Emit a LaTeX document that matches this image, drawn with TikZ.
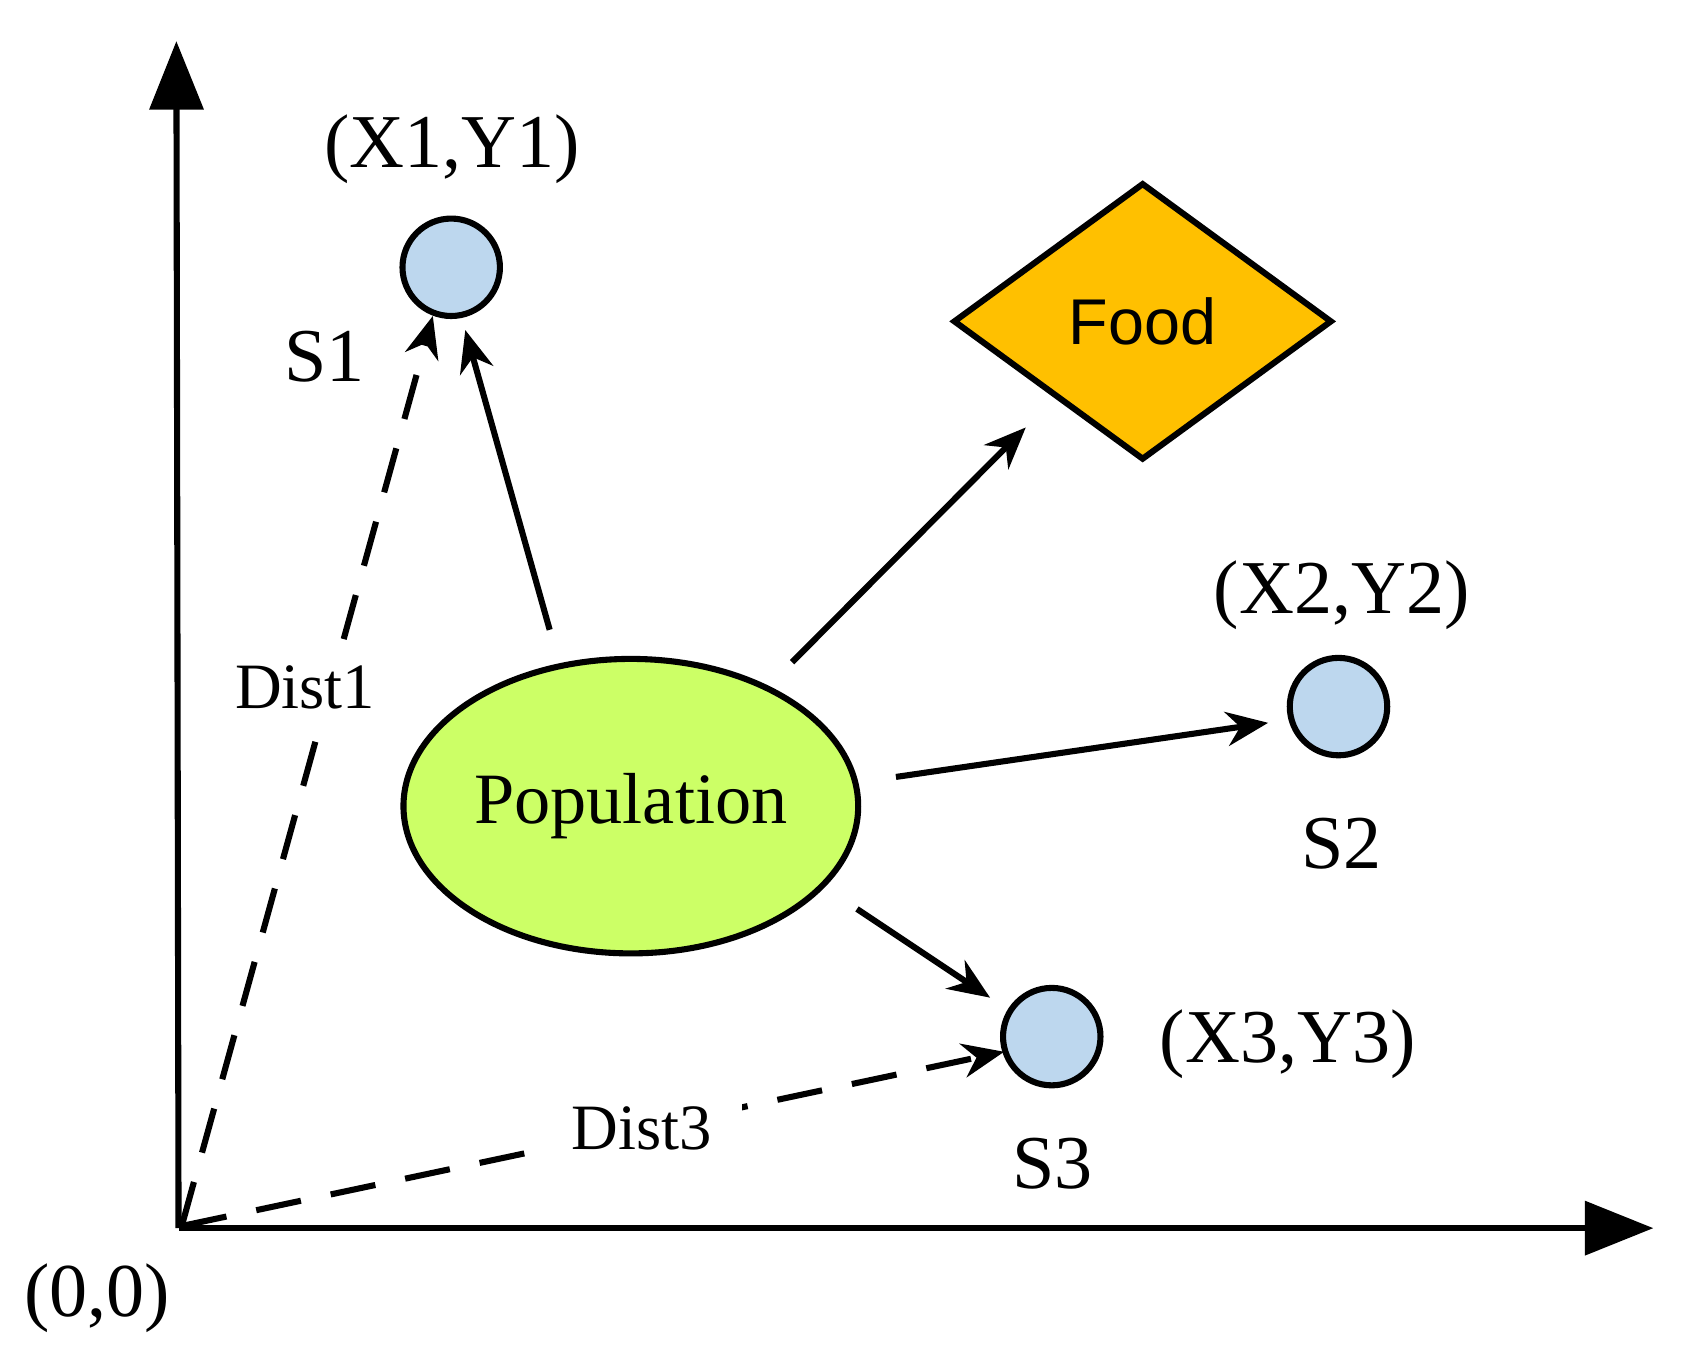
\documentclass[tikz,border=0pt]{standalone}
\usepackage{fontspec}
\setmainfont{Liberation Serif}
\newfontfamily\sansf{Liberation Sans}
\usetikzlibrary{shapes.geometric,arrows.meta}
\begin{document}
\begin{tikzpicture}[x=0.01cm,y=-0.01cm,
  lw/.style={line width=1.6pt},
  pt/.style={circle,draw,lw,fill={rgb,255:red,189;green,215;blue,238},minimum size=0.9cm,inner sep=0},
  arr/.style={lw,-{Stealth[length=11pt,width=9pt]}},
  dsh/.style={lw,dash pattern=on 12pt off 8pt,-{Stealth[length=11pt,width=9pt]}},
  lab/.style={font=\fontsize{20}{24}\selectfont},
  dl/.style={font=\fontsize{17}{20}\selectfont,fill=white,inner xsep=8pt,inner ysep=3pt}]
\useasboundingbox (0,0) rectangle (1560,1250);
\coordinate (O) at (165,1135);
\coordinate (YT) at (163,38);
\coordinate (XT) at (1528,1135);
\draw[lw,-{Triangle[length=18pt,width=14pt]}] (O) -- (YT);
\draw[lw,-{Triangle[length=18pt,width=14pt]}] (O) -- (XT);
\node[pt] (s1) at (417,247) {};
\node[pt] (s2) at (1237,653) {};
\node[pt] (s3) at (972,958) {};
\node[diamond,draw,lw,fill={rgb,255:red,255;green,192;blue,0},minimum width=3.5cm,minimum height=2.56cm,inner sep=0,aspect=1.37,font=\sansf\fontsize{17}{20}\selectfont] (food) at (1056,297) {Food};
\node[ellipse,draw,lw,fill={rgb,255:red,204;green,255;blue,102},minimum width=4.2cm,minimum height=2.72cm,inner sep=0,font=\fontsize{19}{24}\selectfont] (pop) at (583,745) {Population};
\node[lab] (l1) at (418,138) {(X1,Y1)};
\node[lab] (n1) at (300,330) {S1};
\node[lab] (l2) at (1240,550) {(X2,Y2)};
\node[lab] (n2) at (1240,780) {S2};
\node[lab] (l3) at (1190,965) {(X3,Y3)};
\node[lab] (n3) at (973,1075) {S3};
\node[lab] (l0) at (90,1200) {(0,0)};
\coordinate (p1) at (508,582);
\coordinate (p2) at (732,612);
\coordinate (p3) at (828,718);
\coordinate (p4) at (792,840);
\coordinate (q1) at (430,305);
\coordinate (q2) at (948,395);
\coordinate (q3) at (1172,668);
\coordinate (q4) at (915,922);
\draw[arr] (p1) -- (q1);
\draw[arr] (p2) -- (q2);
\draw[arr] (p3) -- (q3);
\draw[arr] (p4) -- (q4);
\coordinate (a1) at (168,1133);
\coordinate (b1) at (400,292);
\coordinate (b3) at (928,972);
\draw[dsh] (a1) -- (b1);
\draw[dsh] (a1) -- (b3);
\node[dl] (d1) at (282,635) {Dist1};
\node[dl] (d3) at (593,1043) {Dist3};
\end{tikzpicture}
\end{document}
